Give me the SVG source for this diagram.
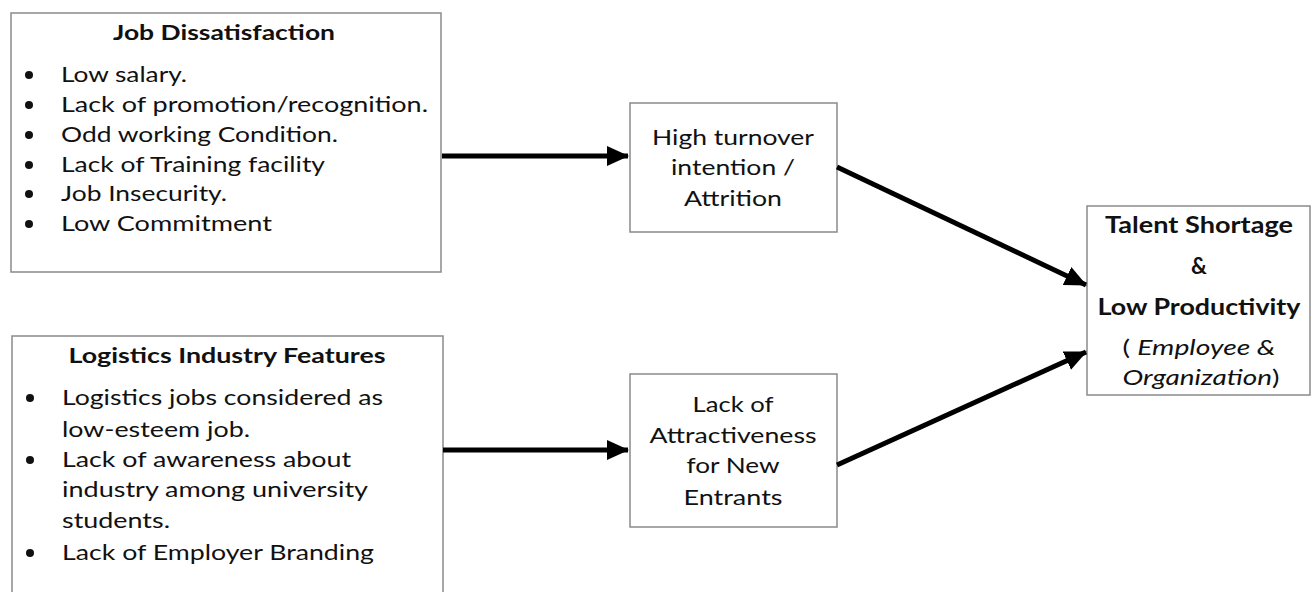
<svg xmlns="http://www.w3.org/2000/svg" width="1312" height="592" viewBox="0 0 1312 592">
<style>
  .box { fill: #ffffff; stroke: #8a8a8a; stroke-width: 1.5; }
  .t { font-family: Lato, "Liberation Sans", sans-serif; fill: #111111; }
  .b1 { font-size: 21px; }
  .b2 { font-size: 22px; }
  .hd { font-weight: bold; font-size: 20px; }
  .hr { font-weight: bold; font-size: 22px; }
  .c { text-anchor: middle; }
  .it { font-style: italic; }
  .dot { fill: #111111; }
  .conn { stroke: #000; stroke-width: 5; fill: none; }
</style>
<defs>
  <marker id="ah" markerWidth="5" markerHeight="4" refX="4.2" refY="2" orient="auto" markerUnits="strokeWidth">
    <path d="M0,0 L4.4,2 L0,4 Z" fill="#000"/>
  </marker>
</defs>
<rect width="1312" height="592" fill="#ffffff"/>

<g id="job-dissatisfaction">
  <rect class="box" x="11" y="13" width="430" height="259"/>
  <text class="t hd c" x="224" y="40" textLength="222" lengthAdjust="spacingAndGlyphs">Job Dissatisfaction</text>
  <circle class="dot" cx="29" cy="75" r="4"/>
  <circle class="dot" cx="29" cy="105" r="4"/>
  <circle class="dot" cx="29" cy="135" r="4"/>
  <circle class="dot" cx="29" cy="165" r="4"/>
  <circle class="dot" cx="29" cy="194" r="4"/>
  <circle class="dot" cx="29" cy="224" r="4"/>
  <text class="t b1" x="61" y="82" textLength="126" lengthAdjust="spacingAndGlyphs">Low salary.</text>
  <text class="t b1" x="61" y="112" textLength="367" lengthAdjust="spacingAndGlyphs">Lack of promotion/recognition.</text>
  <text class="t b1" x="61" y="142" textLength="277" lengthAdjust="spacingAndGlyphs">Odd working Condition.</text>
  <text class="t b1" x="61" y="172" textLength="264" lengthAdjust="spacingAndGlyphs">Lack of Training facility</text>
  <text class="t b1" x="61" y="201" textLength="166" lengthAdjust="spacingAndGlyphs">Job Insecurity.</text>
  <text class="t b1" x="61" y="231" textLength="211" lengthAdjust="spacingAndGlyphs">Low Commitment</text>
</g>

<g id="logistics-features">
  <rect class="box" x="12" y="336" width="431" height="270"/>
  <text class="t hd c" x="227" y="363" textLength="317" lengthAdjust="spacingAndGlyphs">Logistics Industry Features</text>
  <circle class="dot" cx="30" cy="398" r="4"/>
  <circle class="dot" cx="30" cy="460" r="4"/>
  <circle class="dot" cx="30" cy="553" r="4"/>
  <text class="t b2" x="62" y="405" textLength="321" lengthAdjust="spacingAndGlyphs">Logistics jobs considered as</text>
  <text class="t b2" x="62" y="437" textLength="188" lengthAdjust="spacingAndGlyphs">low-esteem job.</text>
  <text class="t b2" x="62" y="467" textLength="289" lengthAdjust="spacingAndGlyphs">Lack of awareness about</text>
  <text class="t b2" x="62" y="497" textLength="306" lengthAdjust="spacingAndGlyphs">industry among university</text>
  <text class="t b2" x="62" y="528" textLength="108" lengthAdjust="spacingAndGlyphs">students.</text>
  <text class="t b2" x="62" y="560" textLength="312" lengthAdjust="spacingAndGlyphs">Lack of Employer Branding</text>
</g>

<g id="high-turnover">
  <rect class="box" x="630" y="103" width="207" height="129"/>
  <text class="t b2 c" x="733" y="145" textLength="162" lengthAdjust="spacingAndGlyphs">High turnover</text>
  <text class="t b2 c" x="733" y="175" textLength="124" lengthAdjust="spacingAndGlyphs">intention /</text>
  <text class="t b2 c" x="733" y="206" textLength="98" lengthAdjust="spacingAndGlyphs">Attrition</text>
</g>

<g id="lack-attractiveness">
  <rect class="box" x="630" y="374" width="207" height="153"/>
  <text class="t b2 c" x="733" y="412" textLength="81" lengthAdjust="spacingAndGlyphs">Lack of</text>
  <text class="t b2 c" x="733" y="443" textLength="167" lengthAdjust="spacingAndGlyphs">Attractiveness</text>
  <text class="t b2 c" x="733" y="473" textLength="93" lengthAdjust="spacingAndGlyphs">for New</text>
  <text class="t b2 c" x="733" y="505" textLength="99" lengthAdjust="spacingAndGlyphs">Entrants</text>
</g>

<g id="talent-shortage">
  <rect class="box" x="1087" y="206" width="223" height="189"/>
  <text class="t hr c" x="1199" y="233" textLength="188" lengthAdjust="spacingAndGlyphs">Talent Shortage</text>
  <text class="t hr c" x="1199" y="274">&amp;</text>
  <text class="t hr c" x="1199" y="315" textLength="203" lengthAdjust="spacingAndGlyphs">Low Productivity</text>
  <text class="t b2 c" x="1199" y="355" textLength="153" lengthAdjust="spacingAndGlyphs">( <tspan class="it">Employee &amp;</tspan></text>
  <text class="t b2 c" x="1201" y="385" textLength="157" lengthAdjust="spacingAndGlyphs"><tspan class="it">Organization</tspan>)</text>
</g>

<g id="connectors">
  <line class="conn" x1="442" y1="156" x2="628" y2="156" marker-end="url(#ah)"/>
  <line class="conn" x1="443" y1="450" x2="628" y2="450" marker-end="url(#ah)"/>
  <line class="conn" x1="837" y1="167" x2="1086" y2="285" marker-end="url(#ah)"/>
  <line class="conn" x1="837" y1="465" x2="1086" y2="352" marker-end="url(#ah)"/>
</g>
</svg>
